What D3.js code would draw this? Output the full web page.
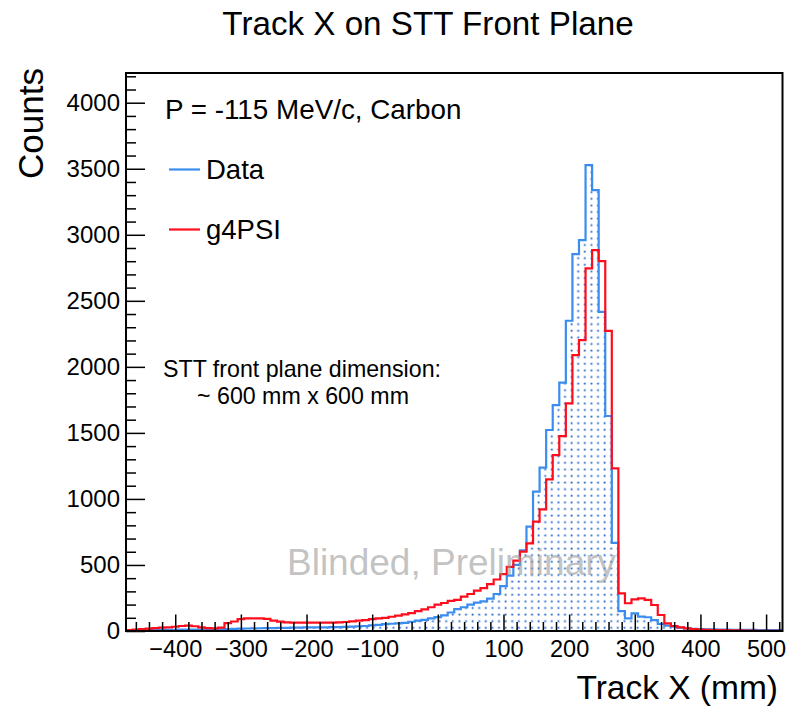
<!DOCTYPE html>
<html>
<head>
<meta charset="utf-8">
<script src="https://cdn.jsdelivr.net/npm/d3@7"></script>
<style>
  html, body { margin: 0; padding: 0; background: #fff; }
  svg { display: block; font-family: "Liberation Sans", Arial, Helvetica, sans-serif; }
</style>
</head>
<body>
<svg id="chart" width="786" height="706"></svg>
<script>
// Histogram binning: 100 bins of 10 mm starting at -475 mm
const binStart = -475;
const binWidth = 10;

// Measured track X counts (Data)
const dataCounts = [
  2, 3, 4, 5, 6, 7, 8, 9, 10, 10,
  10, 10, 10, 11, 12, 14, 16, 18, 19, 20,
  21, 22, 22, 23, 24, 25, 26, 27, 27, 28,
  28, 29, 30, 31, 33, 36, 38, 42, 46, 52,
  55, 58, 62, 70, 78, 84, 95, 105, 118, 140,
  165, 180, 200, 215, 225, 245, 280, 340, 420, 500,
  610, 790, 1055, 1237, 1522, 1711, 1880, 2349, 2854, 2960,
  3528, 3338, 2417, 1628, 668, 150, 96, 134, 109, 104,
  83, 53, 40, 33, 25, 20, 17, 15, 13, 12,
  11, 10, 9, 9, 8, 8, 7, 7, 6, 6
];

// Simulated track X counts (g4PSI)
const simCounts = [
  6, 10, 14, 18, 22, 25, 28, 32, 38, 40,
  36, 28, 22, 20, 25, 60, 72, 90, 95, 96,
  96, 92, 78, 71, 66, 63, 63, 63, 63, 63,
  63, 64, 66, 68, 73, 78, 83, 90, 95, 100,
  108, 117, 126, 136, 150, 164, 180, 200, 212, 228,
  235, 260, 280, 305, 325, 355, 390, 430, 485, 533,
  601, 664, 828, 921, 1148, 1332, 1476, 1723, 2089, 2203,
  2745, 2884, 2801, 2273, 1232, 285, 210, 240, 247, 235,
  197, 121, 58, 38, 28, 20, 15, 11, 9, 7,
  6, 5, 4, 4, 3, 3, 2, 2, 2, 2
];

const xMajorTicks = [-400, -300, -200, -100, 0, 100, 200, 300, 400, 500];
const yMajorTicks = [0, 500, 1000, 1500, 2000, 2500, 3000, 3500, 4000];

const titleText = "Track X on STT Front Plane";
const xTitle = "Track X (mm)";
const yTitle = "Counts";
const legendHeader = "P = -115 MeV/c, Carbon";
const legendLabels = ["Data", "g4PSI"];
const noteLines = ["STT front plane dimension:", "~ 600 mm x 600 mm"];
const watermark = "Blinded, Preliminary";

const blue = "#3a8def";
const red = "#ff0d1d";

const svg = d3.select("#chart");
const frame = { left: 126, right: 782.5, top: 73, bottom: 631 };

const x = d3.scaleLinear().domain([-475, 525]).range([frame.left, frame.right]);
const y = d3.scaleLinear().domain([0, 4225]).range([frame.bottom, frame.top]);

const defs = svg.append("defs");
defs.append("clipPath").attr("id", "frameClip")
  .append("rect")
  .attr("x", frame.left).attr("y", frame.top)
  .attr("width", frame.right - frame.left).attr("height", frame.bottom - frame.top);

const pat = defs.append("pattern")
  .attr("id", "dots")
  .attr("patternUnits", "userSpaceOnUse")
  .attr("x", frame.left).attr("y", frame.bottom)
  .attr("width", 6.6).attr("height", 6.6);
pat.append("rect").attr("x", 2.5).attr("y", 2.5).attr("width", 1.8).attr("height", 1.8)
  .attr("fill", "#1f62cc");

// Step points: one per bin left edge, plus closing right edge
function stepPoints(counts) {
  const pts = counts.map((c, i) => ({ e: binStart + i * binWidth, v: c }));
  pts.push({ e: binStart + counts.length * binWidth, v: counts[counts.length - 1] });
  return pts;
}

const plot = svg.append("g").attr("clip-path", "url(#frameClip)");

const area = d3.area()
  .x(d => x(d.e)).y0(y(0)).y1(d => y(d.v))
  .curve(d3.curveStepAfter);
const line = d3.line()
  .x(d => x(d.e)).y(d => y(d.v))
  .curve(d3.curveStepAfter);

const dataPts = stepPoints(dataCounts);
const simPts = stepPoints(simCounts);

plot.append("path").attr("d", area(dataPts)).attr("fill", "url(#dots)");
plot.append("path").attr("d", line(dataPts))
  .attr("fill", "none").attr("stroke", blue).attr("stroke-width", 2.2);
plot.append("path").attr("d", line(simPts))
  .attr("fill", "none").attr("stroke", red).attr("stroke-width", 2.2);

// Watermark
svg.append("text")
  .attr("x", 287).attr("y", 575)
  .attr("font-size", 37).attr("fill", "#9a9a9a").attr("fill-opacity", 0.6)
  .text(watermark);

// Axes (ticks point into the frame)
const fmt = d => (d < 0 ? "\u2212" + Math.abs(d) : String(d));

const xMinor = d3.range(-460, 525, 20).filter(v => !xMajorTicks.includes(v));
const yMinor = d3.range(0, 4225, 100).filter(v => !yMajorTicks.includes(v));

const xAxis = svg.append("g").attr("transform", `translate(0,${frame.bottom})`)
  .call(d3.axisBottom(x).tickValues(xMajorTicks).tickSize(-16.5).tickSizeOuter(0)
    .tickPadding(8).tickFormat(fmt));
xAxis.select(".domain").remove();
xAxis.selectAll(".tick line").attr("stroke", "#000").attr("stroke-width", 1.5);
xAxis.selectAll(".tick text").attr("font-size", 23.5).attr("fill", "#000")
  .attr("font-family", "Liberation Sans, Arial, sans-serif")
  .attr("dy", "0.71em").attr("y", 9);

const xAxisMinor = svg.append("g").attr("transform", `translate(0,${frame.bottom})`)
  .call(d3.axisBottom(x).tickValues(xMinor).tickSize(-9).tickSizeOuter(0).tickFormat(""));
xAxisMinor.select(".domain").remove();
xAxisMinor.selectAll(".tick line").attr("stroke", "#000").attr("stroke-width", 1.5);

const yAxis = svg.append("g").attr("transform", `translate(${frame.left},0)`)
  .call(d3.axisLeft(y).tickValues(yMajorTicks).tickSize(-19).tickSizeOuter(0)
    .tickPadding(6).tickFormat(d => String(d)));
yAxis.select(".domain").remove();
yAxis.selectAll(".tick line").attr("stroke", "#000").attr("stroke-width", 1.5);
yAxis.selectAll(".tick text").attr("font-size", 24).attr("fill", "#000")
  .attr("font-family", "Liberation Sans, Arial, sans-serif")
  .attr("x", -6);

const yAxisMinor = svg.append("g").attr("transform", `translate(${frame.left},0)`)
  .call(d3.axisLeft(y).tickValues(yMinor).tickSize(-10).tickSizeOuter(0).tickFormat(""));
yAxisMinor.select(".domain").remove();
yAxisMinor.selectAll(".tick line").attr("stroke", "#000").attr("stroke-width", 1.5);

// Frame
svg.append("rect")
  .attr("x", frame.left).attr("y", frame.top)
  .attr("width", frame.right - frame.left).attr("height", frame.bottom - frame.top)
  .attr("fill", "none").attr("stroke", "#000").attr("stroke-width", 2);

// Titles
svg.append("text")
  .attr("x", 428).attr("y", 35).attr("text-anchor", "middle")
  .attr("font-size", 33.2).attr("fill", "#000").text(titleText);

svg.append("text")
  .attr("x", 778).attr("y", 699).attr("text-anchor", "end")
  .attr("font-size", 33.5).attr("fill", "#000").text(xTitle);

svg.append("text")
  .attr("transform", "translate(43,68) rotate(-90)")
  .attr("text-anchor", "end")
  .attr("font-size", 35).attr("fill", "#000").text(yTitle);

// Legend
svg.append("text")
  .attr("x", 165).attr("y", 119).attr("font-size", 27.8).attr("fill", "#000")
  .text(legendHeader);

const legendColors = [blue, red];
const legendY = [169.5, 229.5];
legendLabels.forEach((lab, i) => {
  svg.append("line")
    .attr("x1", 169).attr("x2", 200)
    .attr("y1", legendY[i]).attr("y2", legendY[i])
    .attr("stroke", legendColors[i]).attr("stroke-width", 2.2);
  svg.append("text")
    .attr("x", 206).attr("y", legendY[i] + 9.5)
    .attr("font-size", 27.5).attr("fill", "#000").text(lab);
});

// Detector note
svg.append("text").attr("x", 163).attr("y", 377)
  .attr("font-size", 23.2).attr("fill", "#000").text(noteLines[0]);
svg.append("text").attr("x", 197).attr("y", 404)
  .attr("font-size", 23.2).attr("fill", "#000").text(noteLines[1]);
</script>
</body>
</html>
